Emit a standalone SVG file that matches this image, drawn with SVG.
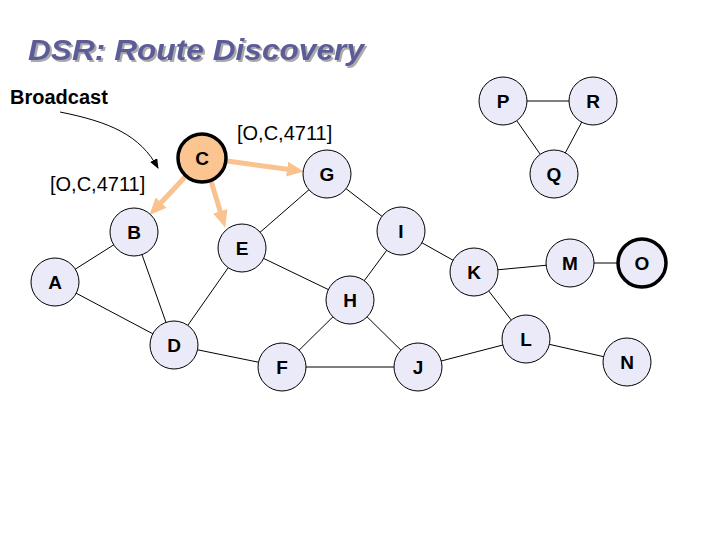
<svg xmlns="http://www.w3.org/2000/svg" width="720" height="540" viewBox="0 0 720 540">
<style>
.n{fill:#EAEAF8;stroke:#000;stroke-width:1}
.t{font-family:"Liberation Sans",Arial,sans-serif;font-weight:bold;font-size:19px;text-anchor:middle;fill:#000}
.e{stroke:#000;stroke-width:1;fill:none}
.o{stroke:#F9C28E;stroke-width:5;fill:none;marker-end:url(#oa)}
.lbl{font-family:"Liberation Sans",Arial,sans-serif;font-size:20px;fill:#000}
</style>
<defs>
<filter id="sh" x="-5%" y="-20%" width="115%" height="150%">
<feDropShadow dx="2" dy="2" stdDeviation="0.6" flood-color="#AAAAAA" flood-opacity="1"/>
</filter>
<marker id="oa" markerUnits="userSpaceOnUse" markerWidth="17" markerHeight="15" viewBox="0 0 17 15" refX="6" refY="7.5" orient="auto">
<path d="M0,0 L17,7.5 L0,15 z" fill="#F9C28E"/>
</marker>
<marker id="ba" markerUnits="userSpaceOnUse" markerWidth="10" markerHeight="8" viewBox="0 0 10 8" refX="9" refY="4" orient="auto">
<path d="M0,0 L10,4 L0,8 z" fill="#000"/>
</marker>
</defs>
<rect width="720" height="540" fill="#fff"/>
<g id="title">
<text x="28" y="60" font-family="Liberation Sans,Arial,sans-serif" font-weight="bold" font-style="italic" font-size="29" textLength="336" lengthAdjust="spacingAndGlyphs" fill="#5C5C99" filter="url(#sh)">DSR: Route Discovery</text>
</g>
<g id="labels">
<text class="lbl" x="10" y="104" font-weight="bold">Broadcast</text>
<text class="lbl" x="50" y="191">[O,C,4711]</text>
<text class="lbl" x="237" y="140">[O,C,4711]</text>
</g>
<g id="connectors">
<line class="e" x1="55" y1="282" x2="134" y2="232"/>
<line class="e" x1="55" y1="282" x2="174" y2="345"/>
<line class="e" x1="134" y1="232" x2="174" y2="345"/>
<line class="e" x1="174" y1="345" x2="242" y2="248"/>
<line class="e" x1="174" y1="345" x2="282" y2="367"/>
<line class="e" x1="242" y1="248" x2="327" y2="174"/>
<line class="e" x1="242" y1="248" x2="350" y2="300"/>
<line class="e" x1="327" y1="174" x2="401" y2="231"/>
<line class="e" x1="350" y1="300" x2="401" y2="231"/>
<line class="e" x1="350" y1="300" x2="282" y2="367"/>
<line class="e" x1="350" y1="300" x2="418" y2="367"/>
<line class="e" x1="282" y1="367" x2="418" y2="367"/>
<line class="e" x1="401" y1="231" x2="474" y2="272"/>
<line class="e" x1="474" y1="272" x2="570" y2="263"/>
<line class="e" x1="570" y1="263" x2="642" y2="263"/>
<line class="e" x1="474" y1="272" x2="526" y2="339"/>
<line class="e" x1="418" y1="367" x2="526" y2="339"/>
<line class="e" x1="526" y1="339" x2="627" y2="362"/>
<line class="e" x1="503" y1="101" x2="593" y2="101"/>
<line class="e" x1="503" y1="101" x2="554" y2="174"/>
<line class="e" x1="593" y1="101" x2="554" y2="174"/>
<line class="o" x1="227" y1="161" x2="293" y2="170"/>
<line class="o" x1="186" y1="176" x2="157" y2="207"/>
<line class="o" x1="211" y1="181" x2="222" y2="217"/>
<path class="e" d="M60,112 C110,122 140,135 158,168" stroke-width="2" marker-end="url(#ba)"/>
</g>
<g id="A"><circle class="n" cx="55" cy="282" r="24"/><text class="t" x="55" y="289">A</text></g>
<g id="B"><circle class="n" cx="134" cy="232" r="24"/><text class="t" x="134" y="239">B</text></g>
<g id="C"><circle cx="202" cy="158" r="24" fill="#FBC592" stroke="#000" stroke-width="3.5"/><text class="t" x="202" y="165">C</text></g>
<g id="D"><circle class="n" cx="174" cy="345" r="24"/><text class="t" x="174" y="352">D</text></g>
<g id="E"><circle class="n" cx="242" cy="248" r="24"/><text class="t" x="242" y="255">E</text></g>
<g id="F"><circle class="n" cx="282" cy="367" r="24"/><text class="t" x="282" y="374">F</text></g>
<g id="G"><circle class="n" cx="327" cy="174" r="24"/><text class="t" x="327" y="181">G</text></g>
<g id="H"><circle class="n" cx="350" cy="300" r="24"/><text class="t" x="350" y="307">H</text></g>
<g id="I"><circle class="n" cx="401" cy="231" r="24"/><text class="t" x="401" y="238">I</text></g>
<g id="J"><circle class="n" cx="418" cy="367" r="24"/><text class="t" x="418" y="374">J</text></g>
<g id="K"><circle class="n" cx="474" cy="272" r="24"/><text class="t" x="474" y="279">K</text></g>
<g id="L"><circle class="n" cx="526" cy="339" r="24"/><text class="t" x="526" y="346">L</text></g>
<g id="M"><circle class="n" cx="570" cy="263" r="24"/><text class="t" x="570" y="270">M</text></g>
<g id="N"><circle class="n" cx="627" cy="362" r="24"/><text class="t" x="627" y="369">N</text></g>
<g id="O"><circle cx="642" cy="263" r="24" fill="#EAEAF8" stroke="#000" stroke-width="3.5"/><text class="t" x="642" y="270">O</text></g>
<g id="P"><circle class="n" cx="503" cy="101" r="24"/><text class="t" x="503" y="108">P</text></g>
<g id="Q"><circle class="n" cx="554" cy="174" r="24"/><text class="t" x="554" y="181">Q</text></g>
<g id="R"><circle class="n" cx="593" cy="101" r="24"/><text class="t" x="593" y="108">R</text></g>
</svg>
